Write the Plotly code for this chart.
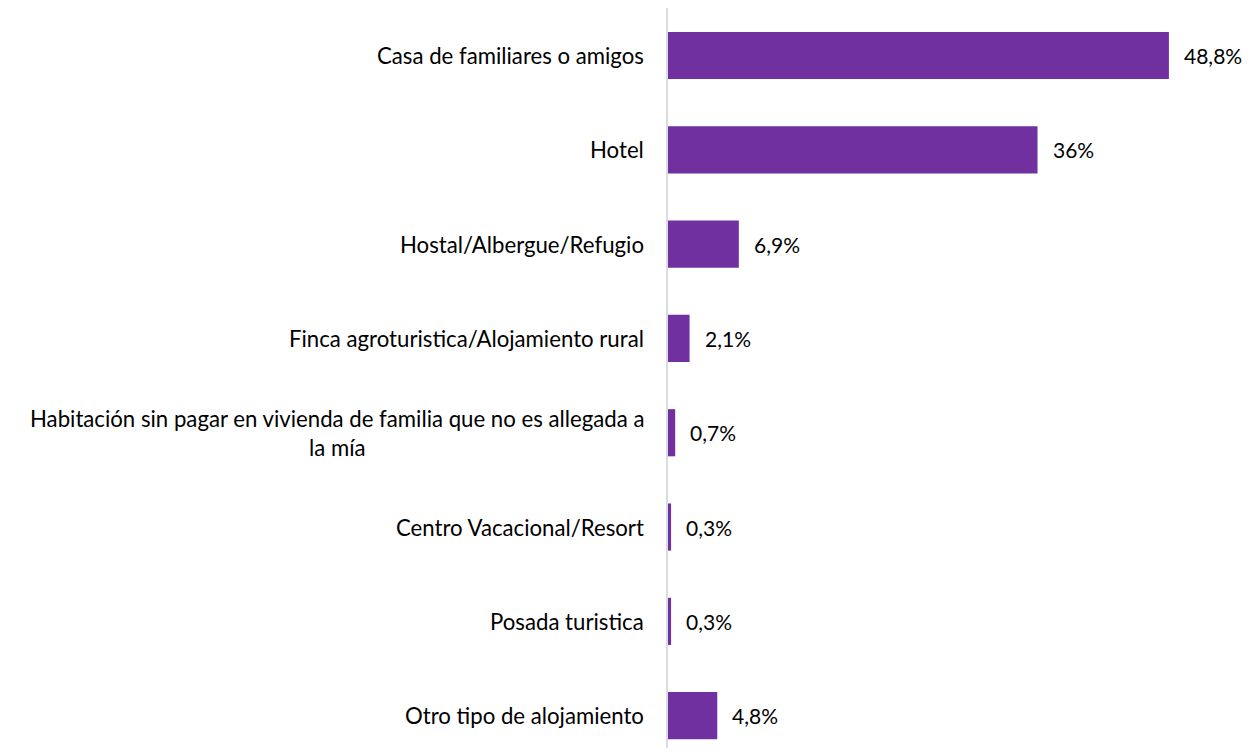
import plotly.graph_objects as go

categories = [
    "Casa de familiares o amigos",
    "Hotel",
    "Hostal/Albergue/Refugio",
    "Finca agroturistica/Alojamiento rural",
    "Habitación sin pagar en vivienda de familia que no es allegada a<br>la mía",
    "Centro Vacacional/Resort",
    "Posada turistica",
    "Otro tipo de alojamiento",
]
values = [48.8, 36.0, 6.9, 2.1, 0.7, 0.3, 0.3, 4.8]
value_labels = ["48,8%", "36%", "6,9%", "2,1%", "0,7%", "0,3%", "0,3%", "4,8%"]

FONT = "Lato"
BAR_COLOR = "#7030A0"

fig = go.Figure(go.Bar(
    y=categories, x=values, orientation="h",
    marker=dict(color=BAR_COLOR, line=dict(width=0)),
    width=0.5, hoverinfo="skip",
))

annotations = []
for c in categories:
    annotations.append(dict(
        x=0, xref="paper", y=c, yref="y", xanchor="right", yanchor="middle",
        text=c, showarrow=False, align="center", xshift=-22,
        font=dict(family=FONT, size=22.2, color="#000000"),
    ))
for c, v, t in zip(categories, values, value_labels):
    annotations.append(dict(
        x=v, xref="x", y=c, yref="y", xanchor="left", yanchor="middle",
        text=t, showarrow=False, xshift=13,
        font=dict(family=FONT, size=21, color="#000000"),
    ))

fig.update_layout(
    width=1242, height=748,
    margin=dict(l=660, r=0, t=0, b=8),
    plot_bgcolor="white", paper_bgcolor="white",
    showlegend=False,
    annotations=annotations,
    xaxis=dict(range=[0, 56.7], showgrid=False, zeroline=False,
               showticklabels=False, showline=False, fixedrange=True),
    yaxis=dict(range=[7.343, -0.504], showgrid=False, zeroline=False,
               showticklabels=False, showline=True, linecolor="#D9DDE3",
               linewidth=2, ticks="", fixedrange=True),
)

fig.write_html("out.html")
